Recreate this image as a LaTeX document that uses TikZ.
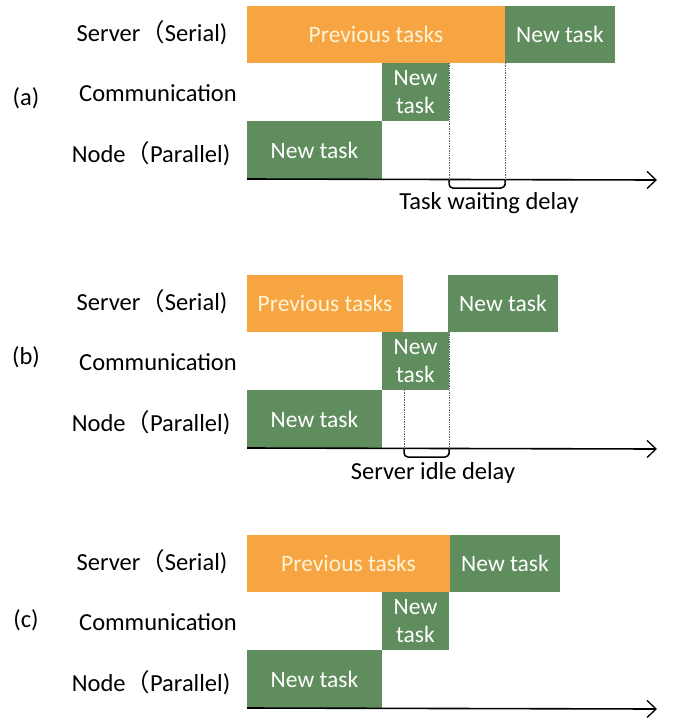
\documentclass[tikz,border=0pt]{standalone}
\usepackage{xcolor}
\usepackage{fontspec}
\usepackage{tikz}
\usetikzlibrary{arrows.meta}
\setmainfont{Carlito}
\newfontfamily\cjk{Noto Sans CJK SC}

\definecolor{prevorange}{HTML}{F7A443}
\definecolor{taskgreen}{HTML}{5F8D5D}
\definecolor{prevtext}{HTML}{FFF4D6}

\tikzset{
  box/.style={draw=none, inner sep=0pt, outer sep=0pt, anchor=north west,
              font=\fontsize{23.5}{28}\selectfont, align=center},
  prevbox/.style={box, fill=prevorange, text=prevtext},
  newbox/.style={box, fill=taskgreen, text=white},
  lbl/.style={font=\fontsize{24.5}{28}\selectfont},
  timeaxis/.style={line width=1.6pt, -{Straight Barb[length=9pt,width=17pt,line width=1.3pt]}},
  guide/.style={densely dotted, gray!70!black, line width=0.7pt},
  brace/.style={line width=1.5pt, rounded corners=4pt}
}
\newcommand{\ser}{Server{\cjk （}Serial)}
\newcommand{\nod}{Node{\cjk （}Parallel)}

\begin{document}
\begin{tikzpicture}[x=1pt, y=-1pt]
             \useasboundingbox (0,0) rectangle (675,718);

             % (a) task waiting delay
             \node[lbl] (atag) at (26, 98) {(a)};
             \node[lbl] (aser) at (152, 33) {\ser};
             \node[lbl] (acom) at (158, 93) {Communication};
             \node[lbl] (anod) at (151, 154) {\nod};

             \node[prevbox, minimum width=258pt, minimum height=57pt] (aprev) at (247, 6) {Previous tasks};
             \node[newbox, minimum width=110pt, minimum height=57pt] (asnew) at (505, 6) {New task};
             \node[newbox, minimum width=67pt, minimum height=58pt] (acnew) at (382, 63) {New\\task};
             \node[newbox, minimum width=135pt, minimum height=58pt] (annew) at (247, 121) {New task};

             \coordinate (aend) at (657, 180);
             \draw[timeaxis] (annew.south west) -- (aend);
             \coordinate (ad1) at (449, 186);
             \coordinate (ad2) at (505, 186);
             \draw[guide] (acnew.north east) -- (ad1);
             \draw[guide] (asnew.south west) -- (ad2);
             \draw[brace] (449, 180) -- (449, 188) -- (505, 188) -- (505, 180);
             \node[lbl] (await) at (489, 203) {Task waiting delay};

             % (b) server idle delay
             \begin{scope}[yshift=-269pt]
             \node[lbl] (btag) at (26, 88) {(b)};
             \node[lbl] (bser) at (152, 33) {\ser};
             \node[lbl] (bcom) at (158, 93) {Communication};
             \node[lbl] (bnod) at (151, 154) {\nod};

             \node[prevbox, minimum width=156pt, minimum height=57pt] (bprev) at (247, 6) {Previous tasks};
             \node[newbox, minimum width=110pt, minimum height=57pt] (bsnew) at (448, 6) {New task};
             \node[newbox, minimum width=67pt, minimum height=58pt] (bcnew) at (382, 63) {New\\task};
             \node[newbox, minimum width=135pt, minimum height=58pt] (bnnew) at (247, 121) {New task};

             \coordinate (bend) at (657, 180);
             \draw[timeaxis] (bnnew.south west) -- (bend);
             \coordinate (bd1) at (404, 187);
             \coordinate (bd2) at (449, 187);
             \draw[guide] (404, 121) -- (bd1);
             \draw[guide] (bcnew.north east) -- (bd2);
             \draw[brace] (404, 180) -- (404, 188) -- (449, 188) -- (449, 180);
             \node[lbl] (bidle) at (433, 204) {Server idle delay};
             \end{scope}

             % (c) no delay
             \begin{scope}[yshift=-529pt]
             \node[lbl] (ctag) at (26, 91) {(c)};
             \node[lbl] (cser) at (152, 33) {\ser};
             \node[lbl] (ccom) at (158, 93) {Communication};
             \node[lbl] (cnod) at (151, 154) {\nod};

             \node[prevbox, minimum width=203pt, minimum height=57pt] (cprev) at (247, 6) {Previous tasks};
             \node[newbox, minimum width=110pt, minimum height=57pt] (csnew) at (450, 6) {New task};
             \node[newbox, minimum width=67pt, minimum height=58pt] (ccnew) at (382, 63) {New\\task};
             \node[newbox, minimum width=135pt, minimum height=58pt] (cnnew) at (247, 121) {New task};

             \coordinate (cend) at (657, 180);
             \draw[timeaxis] (cnnew.south west) -- (cend);
             \end{scope}
\end{tikzpicture}
\end{document}
